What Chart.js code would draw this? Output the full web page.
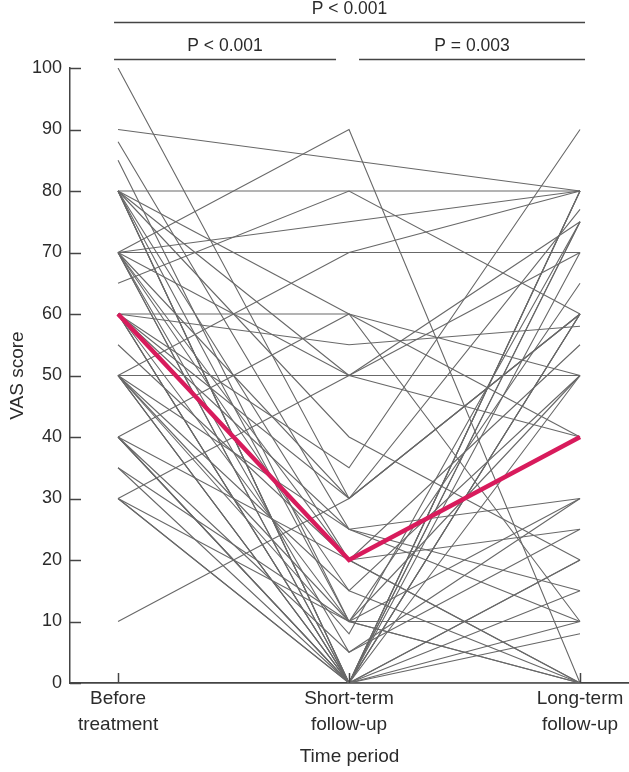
<!DOCTYPE html>
<html>
<head>
<meta charset="utf-8">
<title>VAS score by time period</title>
<script src="https://cdn.jsdelivr.net/npm/chart.js@4/dist/chart.umd.min.js"></script>
<style>
  html, body { margin: 0; padding: 0; background: #fff; }
  #chart { display: block; }
</style>
</head>
<body>
<canvas id="chart" width="629" height="772"></canvas>
<script>
// ── DATA ──────────────────────────────────────────────────────────────────────
const timeLabels = [['Before', 'treatment'], ['Short-term', 'follow-up'], ['Long-term', 'follow-up']];
const yTickValues = [0, 10, 20, 30, 40, 50, 60, 70, 80, 90, 100];

// one entry per patient (same index = same patient)
const beforeScores    = [100, 90, 88, 85, 80, 80, 80, 80, 80, 80, 80, 70, 70, 70, 70, 70, 70, 70, 70, 70,
                         65, 60, 60, 60, 60, 60, 60, 60, 55, 50, 50, 50, 50, 50, 50, 50, 50, 40, 40, 40,
                         40, 40, 35, 35, 30, 30, 30, 30, 10, 60, 80, 70, 50, 60, 40, 80];
const shortTermScores = [30, 85, 25, 10, 80, 50, 20, 0, 10, 40, 0, 70, 90, 75, 30, 0, 15, 20, 5, 50,
                         80, 60, 55, 25, 0, 10, 0, 30, 20, 50, 70, 0, 10, 25, 0, 15, 8, 60, 0, 20,
                         5, 0, 0, 10, 50, 0, 0, 10, 30, 35, 60, 0, 0, 0, 0, 0];
const longTermScores  = [60, 80, 10, 0, 80, 75, 0, 60, 30, 20, 0, 70, 0, 80, 60, 75, 50, 0, 25, 40,
                         60, 50, 58, 15, 80, 10, 0, 77, 55, 50, 80, 20, 65, 30, 60, 0, 75, 10, 60, 25,
                         30, 8, 20, 50, 70, 15, 80, 0, 60, 90, 40, 10, 70, 75, 80, 50];

const medianScores = [60, 20, 40];

const bracketFrom = [0, 1, 0];
const bracketTo   = [1, 2, 2];
const bracketText = ['P < 0.001', 'P = 0.003', 'P < 0.001'];
const bracketLevel = [0, 0, 1];

// ── STYLE ─────────────────────────────────────────────────────────────────────
const FONT = "'Liberation Sans', Arial, sans-serif";
const AXIS_COLOR = '#444';
const TEXT_COLOR = '#2b2b2b';

// ── DATASETS ──────────────────────────────────────────────────────────────────
const datasets = [{
    data: medianScores.map((v, i) => ({ x: i, y: v })),
    borderColor: '#d81b5c',
    borderWidth: 4.5,
    pointRadius: 0,
    order: 0
}];
beforeScores.forEach((b, i) => {
    datasets.push({
        data: [b, shortTermScores[i], longTermScores[i]].map((v, k) => ({ x: k, y: v })),
        borderColor: '#686868',
        borderWidth: 1.1,
        pointRadius: 0,
        order: 1
    });
});

// ── OVERLAY: inward ticks + significance brackets ─────────────────────────────
const overlayPlugin = {
    id: 'overlay',
    afterDraw(chart) {
        const { ctx, scales: { x, y } } = chart;
        ctx.save();
        ctx.strokeStyle = AXIS_COLOR;
        ctx.lineWidth = 1.5;
        const seg = (x1, y1, x2, y2) => { ctx.beginPath(); ctx.moveTo(x1, y1); ctx.lineTo(x2, y2); ctx.stroke(); };

        yTickValues.forEach(v => {
            const py = Math.round(y.getPixelForValue(v)) + 0.5;
            seg(x.left, py, x.left + 11, py);
        });
        timeLabels.forEach((_, i) => {
            const px = Math.round(x.getPixelForValue(i)) + 0.5;
            seg(px, y.bottom, px, y.bottom - 10);
        });

        ctx.fillStyle = TEXT_COLOR;
        ctx.font = '17.5px ' + FONT;
        ctx.textAlign = 'center';
        ctx.textBaseline = 'middle';
        bracketText.forEach((txt, i) => {
            const x1 = x.getPixelForValue(bracketFrom[i]) + (bracketFrom[i] === 0 ? -4 : 10);
            const x2 = x.getPixelForValue(bracketTo[i]) + (bracketTo[i] === 2 ? 5 : -13);
            const ly = bracketLevel[i] === 0 ? 59.5 : 22.5;
            seg(x1, ly, x2, ly);
            ctx.fillText(txt, (x1 + x2) / 2, ly - 13);
        });
        ctx.restore();
    }
};

// ── CHART ─────────────────────────────────────────────────────────────────────
new Chart(document.getElementById('chart').getContext('2d'), {
    type: 'line',
    data: { datasets },
    options: {
        responsive: false,
        animation: false,
        parsing: true,
        layout: { padding: { top: 68, left: 0, right: 0, bottom: 0 } },
        plugins: { legend: { display: false }, tooltip: { enabled: false } },
        scales: {
            x: {
                type: 'linear',
                min: -0.208,
                max: 2.212,
                afterBuildTicks: s => { s.ticks = timeLabels.map((_, i) => ({ value: i })); },
                afterFit: s => { s.height = 89; },
                ticks: {
                    callback: (v, i) => timeLabels[i],
                    color: TEXT_COLOR,
                    font: { family: FONT, size: 19, lineHeight: 1.35 },
                    padding: 3,
                    maxRotation: 0,
                    autoSkip: false
                },
                grid: { drawOnChartArea: false, drawTicks: false },
                border: { color: AXIS_COLOR, width: 1.8 },
                title: {
                    display: true,
                    text: 'Time period',
                    color: TEXT_COLOR,
                    font: { family: FONT, size: 19 },
                    padding: 4
                }
            },
            y: {
                min: 0,
                max: 100,
                afterFit: s => { s.width = 70; },
                ticks: {
                    stepSize: 10,
                    color: TEXT_COLOR,
                    font: { family: FONT, size: 18 },
                    padding: 8
                },
                grid: { drawOnChartArea: false, drawTicks: false },
                border: { color: AXIS_COLOR, width: 1.5 },
                title: {
                    display: true,
                    text: 'VAS score',
                    color: TEXT_COLOR,
                    font: { family: FONT, size: 19 },
                    padding: 6
                }
            }
        }
    },
    plugins: [overlayPlugin]
});
</script>
</body>
</html>
